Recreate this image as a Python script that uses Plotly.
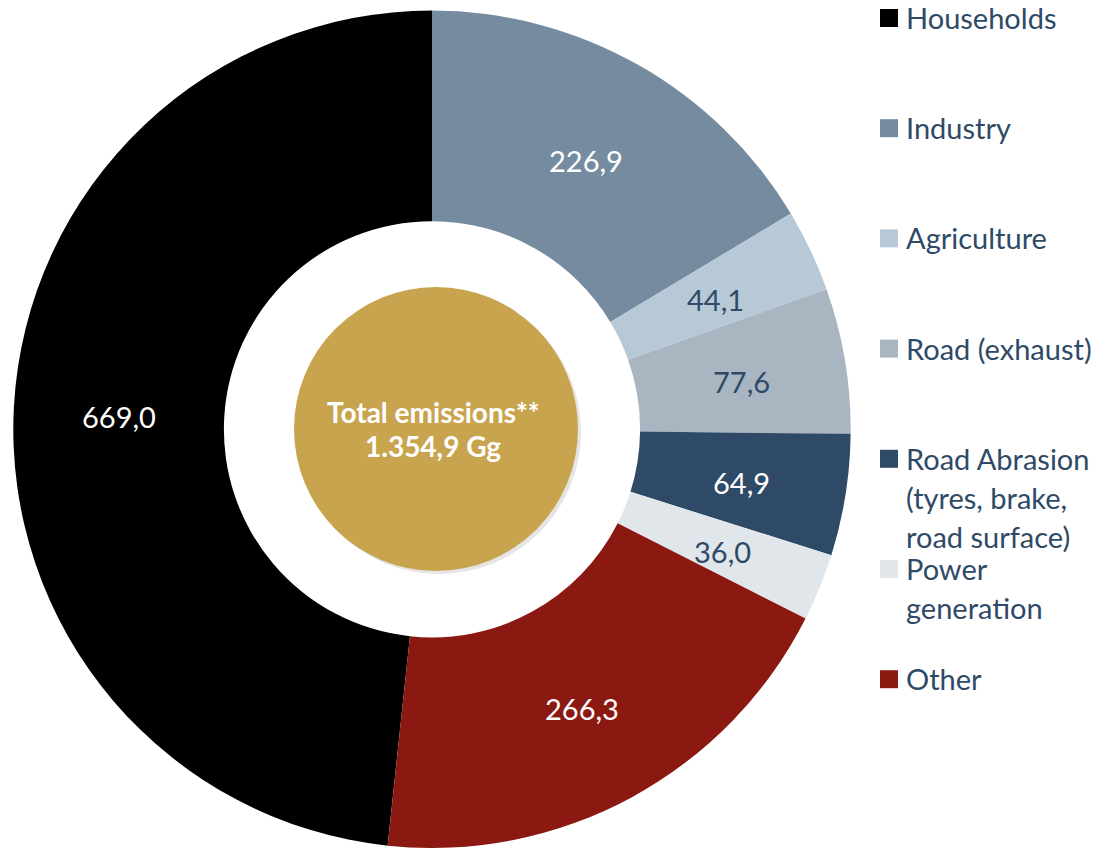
import math
import plotly.graph_objects as go

# ---- data ----
categories = ["Households", "Industry", "Agriculture", "Road (exhaust)",
              "Road Abrasion\n(tyres, brake,\nroad surface)", "Power\ngeneration", "Other"]
values = [669.0, 226.9, 44.1, 77.6, 64.9, 36.0, 266.3]
colors = ["#000000", "#758ca0", "#b7c8d6", "#a9b6c2", "#2e4a66", "#e0e6ea", "#8b1912"]
text_colors = ["#ffffff", "#ffffff", "#2e4a66", "#2e4a66", "#ffffff", "#2e4a66", "#ffffff"]
center_title = "Total emissions**"
center_total = "1.354,9 Gg"

W, H = 1103, 848
FONT = "Lato, 'Open Sans', sans-serif"
NAVY = "#2e4a66"

# ring geometry (pixels)
CX, CY = 432.0, 429.3
R_OUT = 418.7
HOLE = 0.497

total = sum(values)
rotation = -360.0 * values[0] / total  # Households ends at 12 o'clock

fig = go.Figure()
fig.add_trace(go.Pie(
    labels=[c.replace("\n", " ") for c in categories],
    values=values,
    sort=False,
    direction="clockwise",
    rotation=rotation,
    hole=HOLE,
    marker=dict(colors=colors, line=dict(width=0)),
    textinfo="none",
    hoverinfo="label+value",
    showlegend=False,
    domain=dict(x=[(CX - R_OUT) / W, (CX + R_OUT) / W],
                y=[max(0, 1 - (CY + R_OUT) / H), 1 - (CY - R_OUT) / H]),
))

shapes = []
annotations = []

# value labels at the radial middle of each slice
r_mid = R_OUT * (1 + HOLE) / 2
start = rotation
for v, tc in zip(values, text_colors):
    span = 360.0 * v / total
    mid = math.radians(start + span / 2)
    px = CX + r_mid * math.sin(mid)
    py = CY - r_mid * math.cos(mid) + 4
    label = f"{v:.1f}".replace(".", ",")
    annotations.append(dict(x=px / W, y=1 - py / H, xref="paper", yref="paper",
                            xanchor="center", yanchor="middle",
                            text=label, showarrow=False,
                            font=dict(family=FONT, size=29, color=tc)))
    start += span

# gold center disc
cx, cy, r = 436, 429, 142
shapes.append(dict(type="circle", xref="paper", yref="paper",
                   x0=(cx - r + 3) / W, x1=(cx + r + 3) / W,
                   y0=1 - (cy + r + 3) / H, y1=1 - (cy - r + 3) / H,
                   fillcolor="rgba(0,0,0,0.10)", line=dict(width=0), layer="above"))
shapes.append(dict(type="circle", xref="paper", yref="paper",
                   x0=(cx - r) / W, x1=(cx + r) / W,
                   y0=1 - (cy + r) / H, y1=1 - (cy - r) / H,
                   fillcolor="#c9a44e", line=dict(width=0), layer="above"))
annotations.append(dict(x=433 / W, y=1 - 412 / H, xref="paper", yref="paper",
                        xanchor="center", yanchor="middle",
                        text="<b>" + center_title + "</b>", showarrow=False,
                        font=dict(family=FONT, size=28, color="white")))
annotations.append(dict(x=433 / W, y=1 - 446 / H, xref="paper", yref="paper",
                        xanchor="center", yanchor="middle",
                        text="<b>" + center_total + "</b>", showarrow=False,
                        font=dict(family=FONT, size=28, color="white")))

# custom legend
leg_top = 17.5
item_gap = 110.2
line_gap = 39.3
for i, (name, col) in enumerate(zip(categories, colors)):
    y0 = leg_top + i * item_gap
    shapes.append(dict(type="rect", xref="paper", yref="paper",
                       x0=880 / W, x1=898 / W,
                       y0=1 - (y0 + 9.5) / H, y1=1 - (y0 - 8.5) / H,
                       fillcolor=col, line=dict(width=0)))
    for j, line in enumerate(name.split("\n")):
        annotations.append(dict(x=904 / W, y=1 - (y0 + j * line_gap) / H,
                                xref="paper", yref="paper", xanchor="left",
                                yanchor="middle", text=line, showarrow=False,
                                font=dict(family=FONT, size=29, color=NAVY)))

fig.update_layout(
    width=W, height=H,
    margin=dict(l=0, r=0, t=0, b=0),
    paper_bgcolor="white", plot_bgcolor="white",
    separators=",.",
    shapes=shapes, annotations=annotations,
)

fig.write_html("out.html", config={"displayModeBar": False},
               post_script="document.body.style.margin='0px';document.body.style.overflow='hidden';")
